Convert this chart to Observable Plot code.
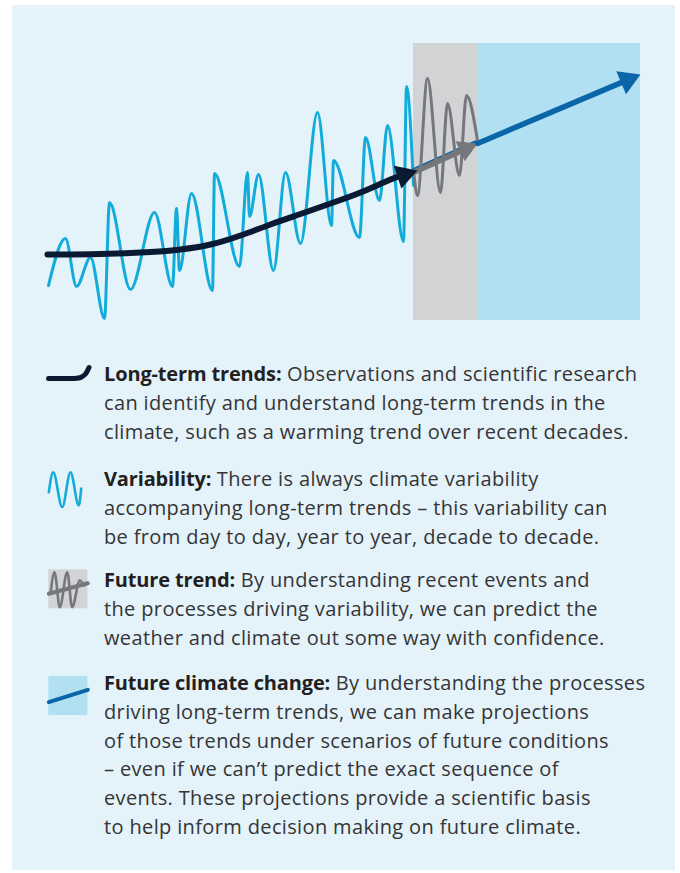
<!DOCTYPE html>
<html>
<head>
<meta charset="utf-8">
<script src="https://cdn.jsdelivr.net/npm/d3@7"></script>
<script src="https://cdn.jsdelivr.net/npm/@observablehq/plot@0.6"></script>
<style>
  html, body { margin: 0; padding: 0; background: #ffffff; }
  body { width: 680px; height: 873px; position: relative; overflow: hidden; font-family: "Open Sans", "Noto Sans", sans-serif; }
  #panel { position: absolute; left: 12px; top: 5px; width: 663px; height: 865px; background: #e4f2fa; }
  #chart { position: absolute; left: 0; top: 0; }
  .icon { position: absolute; left: 46px; }
  .txt { position: absolute; left: 104px; font-size: 20px; line-height: 28.8px; letter-spacing: 0.36px; color: #353535; white-space: nowrap; }
  .txt b { color: #231f20; font-weight: 700; letter-spacing: -0.15px; }
</style>
</head>
<body>
<div id="panel"></div>
<div id="chart"></div>
<div id="legend"></div>
<script>
// ---------------- DATA ----------------
// Variability (observed wiggle): time step and value
const variabilityT = [0, 17, 28, 42, 56, 61, 82, 106, 124, 128, 131, 143, 164, 166, 191, 199, 201, 210, 225, 237, 252, 269, 283, 285, 311, 317, 331, 339, 355, 358, 365];
const variabilityV = [-2.5, 2.2, -2.6, 0.3, -5.8, 5.8, -2.9, 4.8, -2.6, 5.2, -1.0, 6.7, -3.0, 8.7, -0.6, 8.8, 4.4, 8.6, -1.0, 8.8, 1.7, 14.8, 3.5, 10.0, 2.3, 12.3, 6.0, 13.5, 1.9, 17.4, 7.5];
// Long-term trend
const trendT = [-1, 52, 102, 132, 162, 192, 222, 252, 282, 312, 342, 369];
const trendV = [0.6, 0.65, 0.85, 1.1, 1.6, 2.5, 3.6, 4.65, 5.7, 6.8, 8.1, 9.0];
// Future trend (predicted variability)
const futureWiggleT = [365, 369, 379, 392, 399, 411, 418, 429];
const futureWiggleV = [9.0, 6.5, 18.2, 6.8, 15.7, 8.5, 16.5, 12.0];
const futureTrendT = [365, 429];
const futureTrendV = [8.8, 11.7];
// Future climate change projection
const projectionT = [429, 592];
const projectionV = [11.7, 18.6];
// Periods (shaded boxes)
const periodNames = ["Future trend", "Future climate change"];
const periodStart = [365, 429];
const periodEnd = [429, 592];
const periodLow = -6.0;
const periodHigh = 21.7;

// Legend
const legendLabels = ["Long-term trends:", "Variability:", "Future trend:", "Future climate change:"];
const legendText = [
  ["Observations and scientific research", "can identify and understand long-term trends in the", "climate, such as a warming trend over recent decades."],
  ["There is always climate variability", "accompanying long-term trends \u2013 this variability can", "be from day to day, year to year, decade to decade."],
  ["By understanding recent events and", "the processes driving variability, we can predict the", "weather and climate out some way with confidence."],
  ["By understanding the processes", "driving long-term trends, we can make projections", "of those trends under scenarios of future conditions", "\u2013 even if we can\u2019t predict the exact sequence of", "events. These projections provide a scientific basis", "to help inform decision making on future climate."]
];
// Legend icon shapes (local icon units)
const iconTrendX = [2, 28, 35, 39, 42.5];
const iconTrendY = [22, 22, 20.5, 17.5, 11];
const iconWiggleX = [2.3, 6.7, 15.7, 24, 32.3, 34.7];
const iconWiggleY = [29.7, 9.7, 44.7, 9.7, 43, 26];
const iconFutureX = [4, 8, 13.3, 20.7, 25.7, 33.3, 37.3];
const iconFutureY = [27.3, 5.7, 40.7, 5.7, 40.7, 14, 19];
const iconFutureLineX = [2.3, 41.3];
const iconFutureLineY = [27.3, 16.7];
const iconProjLineX = [2.3, 41.3];
const iconProjLineY = [27.7, 15.3];

// ---------------- COLOURS ----------------
const C = {
  grey: "#d1d3d4", lightblue: "#b1e0f2", wiggle: "#12acdb", navy: "#0b1a33",
  greyLine: "#75777a", blue: "#0a66a8"
};

// ---------------- CHART ----------------
const W = 680, H = 340;
const xDomain = [-48, 632], yDomain = [-8, 26];
const sx = d3.scaleLinear(xDomain, [0, W]);
const sy = d3.scaleLinear(yDomain, [H, 0]);
const zip = (T, V) => T.map((t, i) => ({t, v: V[i]}));

// arrowhead symbol: tip at origin, pointing up
function headSymbol(len, half) {
  return { draw(ctx, size) { const s = Math.sqrt(size / Math.PI); ctx.moveTo(0, 0); ctx.lineTo(-half * s, len * s); ctx.lineTo(half * s, len * s); ctx.closePath(); } };
}
function headAt(T, V) {
  const n = T.length;
  const dx = sx(T[n - 1]) - sx(T[n - 2]), dy = sy(V[n - 1]) - sy(V[n - 2]);
  return [{t: T[n - 1], v: V[n - 1], angle: Math.atan2(dx, -dy) * 180 / Math.PI}];
}
// shorten last point of a polyline back by px (screen) so the line hides under the head
function shorten(T, V, px) {
  const n = T.length;
  const x1 = sx(T[n - 2]), y1 = sy(V[n - 2]), x2 = sx(T[n - 1]), y2 = sy(V[n - 1]);
  const L = Math.hypot(x2 - x1, y2 - y1), k = (L - px) / L;
  const pts = zip(T, V).slice(0, n - 1);
  pts.push({t: sx.invert(x1 + (x2 - x1) * k), v: sy.invert(y1 + (y2 - y1) * k)});
  return pts;
}

const periods = periodNames.map((name, i) => ({name, t1: periodStart[i], t2: periodEnd[i], v1: periodLow, v2: periodHigh}));

const chart = Plot.plot({
  width: W, height: H, margin: 0,
  x: {domain: xDomain, axis: null},
  y: {domain: yDomain, axis: null},
  style: {background: "transparent", overflow: "visible"},
  marks: [
    Plot.rect(periods, {x1: "t1", x2: "t2", y1: "v1", y2: "v2", fill: (d) => [C.grey, C.lightblue][periodNames.indexOf(d.name)]}),
    Plot.line(zip(variabilityT, variabilityV), {x: "t", y: "v", stroke: C.wiggle, strokeWidth: 3, curve: "monotone-x"}),
    Plot.line(zip(futureTrendT, [futureTrendV[0] + 0.35, futureTrendV[1] + 0.3]), {x: "t", y: "v", stroke: C.blue, strokeWidth: 2}),
    Plot.line(zip(futureWiggleT, futureWiggleV), {x: "t", y: "v", stroke: C.greyLine, strokeWidth: 3, curve: "monotone-x"}),
    Plot.line(shorten(futureTrendT, futureTrendV, 10), {x: "t", y: "v", stroke: C.greyLine, strokeWidth: 5.5}),
    Plot.dot(headAt(futureTrendT, futureTrendV), {x: "t", y: "v", rotate: "angle", r: 1, symbol: headSymbol(19, 11), fill: C.greyLine, stroke: "none"}),
    Plot.line(shorten(trendT, trendV, 10), {x: "t", y: "v", stroke: C.navy, strokeWidth: 6, curve: "natural"}),
    Plot.dot(headAt(trendT, trendV), {x: "t", y: "v", rotate: "angle", r: 1, symbol: headSymbol(21, 12), fill: C.navy, stroke: "none"}),
    Plot.line(shorten(projectionT, projectionV, 10), {x: "t", y: "v", stroke: C.blue, strokeWidth: 5.5}),
    Plot.dot(headAt(projectionT, projectionV), {x: "t", y: "v", rotate: "angle", r: 1, symbol: headSymbol(21, 12.5), fill: C.blue, stroke: "none"})
  ]
});
document.getElementById("chart").appendChild(chart);

// ---------------- LEGEND ----------------
const legend = document.getElementById("legend");
const textTops = [360, 465, 566, 669];
const iconTops = [356, 462, 566, 674];

function iconPlot(marks) {
  return Plot.plot({
    width: 46, height: 48, margin: 0,
    x: {domain: [0, 46], axis: null},
    y: {domain: [0, 48], range: [0, 48], axis: null},
    style: {background: "transparent", overflow: "visible"},
    marks
  });
}
const icons = [
  iconPlot([Plot.line(zip(iconTrendX, iconTrendY), {x: "t", y: "v", stroke: C.navy, strokeWidth: 5, curve: "natural"})]),
  iconPlot([Plot.line(zip(iconWiggleX, iconWiggleY), {x: "t", y: "v", stroke: C.wiggle, strokeWidth: 2.6, curve: "monotone-x"})]),
  iconPlot([
    Plot.rect([{x1: 2.3, x2: 41.3, y1: 3.3, y2: 42.3}], {x1: "x1", x2: "x2", y1: "y1", y2: "y2", fill: C.grey}),
    Plot.line(zip(iconFutureX, iconFutureY), {x: "t", y: "v", stroke: C.greyLine, strokeWidth: 2.6, curve: "monotone-x"}),
    Plot.line(zip(iconFutureLineX, iconFutureLineY), {x: "t", y: "v", stroke: C.greyLine, strokeWidth: 4})
  ]),
  iconPlot([
    Plot.rect([{x1: 2.3, x2: 41.3, y1: 2, y2: 41}], {x1: "x1", x2: "x2", y1: "y1", y2: "y2", fill: C.lightblue}),
    Plot.line(zip(iconProjLineX, iconProjLineY), {x: "t", y: "v", stroke: C.blue, strokeWidth: 4})
  ])
];

legendLabels.forEach((label, i) => {
  const ic = document.createElement("div");
  ic.className = "icon";
  ic.style.top = iconTops[i] + "px";
  ic.appendChild(icons[i]);
  legend.appendChild(ic);

  const tx = document.createElement("div");
  tx.className = "txt";
  tx.style.top = textTops[i] + "px";
  const b = document.createElement("b");
  b.textContent = label;
  tx.appendChild(b);
  legendText[i].forEach((line, j) => {
    if (j === 0) tx.appendChild(document.createTextNode(" " + line));
    else { tx.appendChild(document.createElement("br")); tx.appendChild(document.createTextNode(line)); }
  });
  legend.appendChild(tx);
});
</script>
</body>
</html>
